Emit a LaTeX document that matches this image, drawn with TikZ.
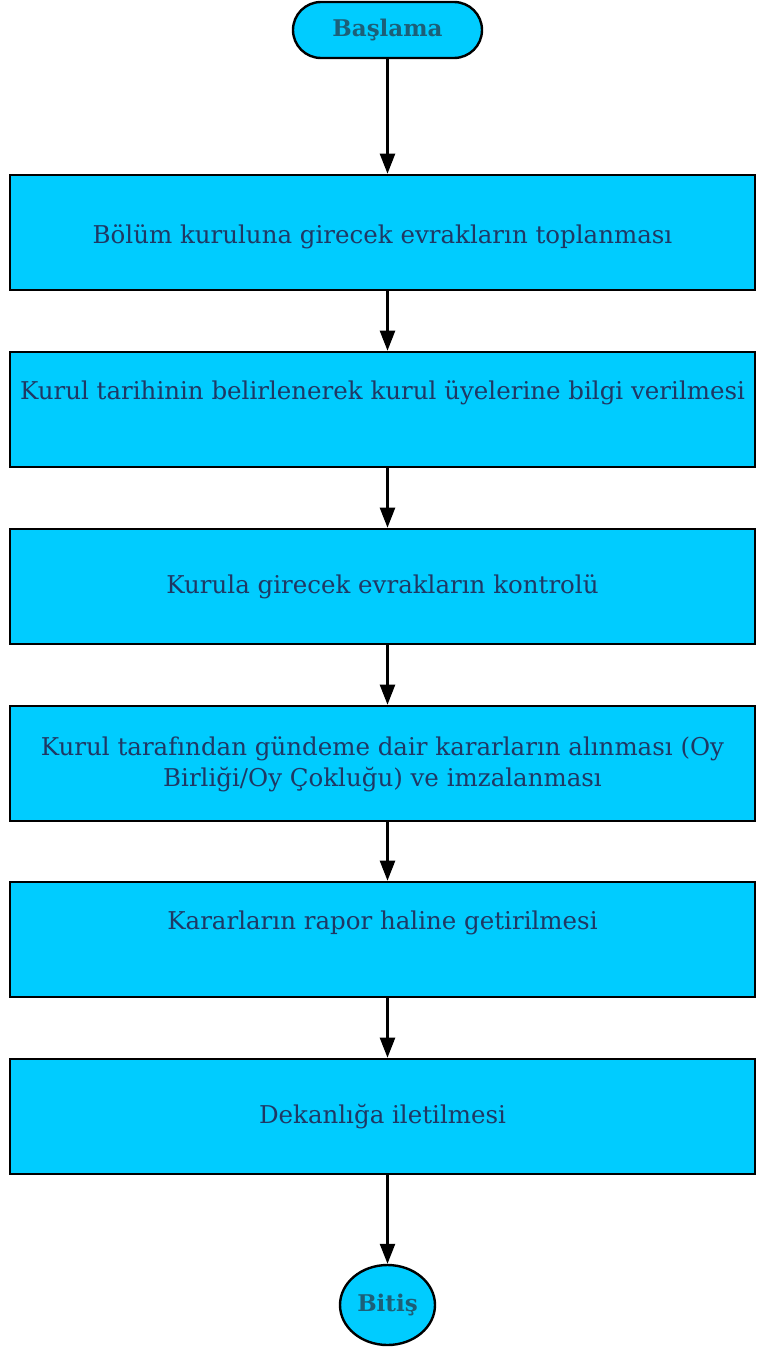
\documentclass[tikz,border=0pt]{standalone}
\usepackage{fontspec}
\setmainfont{DejaVu Serif}
\usetikzlibrary{shapes.geometric,arrows.meta}
\definecolor{boxfill}{HTML}{00CCFF}
\definecolor{boxtext}{HTML}{1F3864}
\definecolor{termtext}{HTML}{1C5F78}
\begin{document}
\begin{tikzpicture}[x=1pt,y=-1pt]
\tikzstyle{every node}+=[inner sep=0pt]
\tikzstyle{stepbox}=[draw=black,line width=2.6pt,fill=boxfill,minimum width=745pt,minimum height=115pt,
  text=boxtext,font=\fontsize{24.5}{31}\selectfont,align=center,text height=18pt,text depth=5pt]
\tikzstyle{raised}=[text depth=39pt]
\tikzstyle{flow}=[line width=2.4pt,-{Triangle[length=20pt,width=15pt]}]
\useasboundingbox (0,0) rectangle (756,1349);
% terminals
\node [draw=black,line width=2.4pt,fill=boxfill,rounded corners=28pt,minimum width=189pt,minimum height=56pt,
  text=termtext,font=\fontsize{23}{26}\selectfont\bfseries] (start) at (387.5,30) {Başlama};
\node [ellipse,draw=black,line width=2.4pt,fill=boxfill,minimum width=95pt,minimum height=80pt,
  text=termtext,font=\fontsize{23}{26}\selectfont\bfseries] (stop) at (387.5,1305) {Bitiş};
% steps
\node [stepbox,text height=26pt] (b1) at (382.5,232.5) {Bölüm kuruluna girecek evrakların toplanması};
\node [stepbox,raised] (b2) at (382.5,409.5) {Kurul tarihinin belirlenerek kurul üyelerine bilgi verilmesi};
\node [stepbox] (b3) at (382.5,586.5) {Kurula girecek evrakların kontrolü};
\node [stepbox,text height=50pt] (b4) at (382.5,763.5) {Kurul tarafından gündeme dair kararların alınması (Oy\\Birliği/Oy Çokluğu) ve imzalanması};
\node [stepbox,raised] (b5) at (382.5,939.5) {Kararların rapor haline getirilmesi};
\node [stepbox] (b6) at (382.5,1116.5) {Dekanlığa iletilmesi};
% arrows
\draw [flow] (start.south) -- (start.south |- b1.north);
\foreach \a/\b in {b1/b2,b2/b3,b3/b4,b4/b5,b5/b6}
  \draw [flow] (\a.south -| start) -- (\b.north -| start);
\draw [flow] (b6.south -| start) -- (stop.north);
\end{tikzpicture}
\end{document}
